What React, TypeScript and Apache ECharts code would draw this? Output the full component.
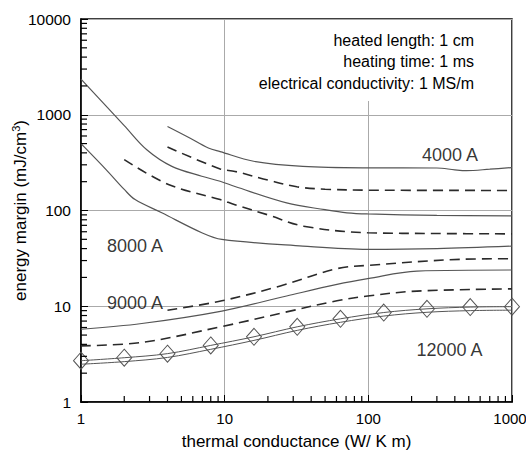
import React, { useEffect, useRef } from "react";
import * as echarts from "echarts";

// Curve data: [thermal conductance (W/K m), energy margin (mJ/cm3)]
const solid4000: number[][] = [[4, 755], [5.5, 590], [7.7, 450], [9.3, 412], [15.9, 327], [35, 289], [100, 279], [300, 278], [400, 266], [480, 261], [700, 270], [1000, 281]];
const dashed4000: number[][] = [[4, 460], [9.3, 272], [11.8, 256], [20, 208], [31.8, 177], [50, 167], [99, 163], [1000, 162]];
const solid8000a: number[][] = [[1, 2357], [2, 771], [2.87, 431], [4.29, 289], [6.93, 228], [9.3, 202], [11.8, 178], [27, 120], [50, 102], [71, 94.6], [99, 92], [300, 89], [1000, 88]];
const dashed8000: number[][] = [[2, 340], [4.06, 187], [9.3, 130], [11.8, 115], [20, 90], [35.4, 68.6], [99, 58.6], [300, 57.5], [1000, 57]];
const solid8000b: number[][] = [[1, 499], [1.5, 266], [2, 166], [2.38, 130], [3.65, 94.6], [6.93, 58.6], [9.56, 49.9], [35, 42.5], [99, 39.3], [300, 40], [1000, 42.5]];
const dashed9000: number[][] = [[4, 9.08], [9.56, 11.4], [24.4, 16.3], [60.5, 24.7], [99, 26.7], [437, 30.9], [1000, 31.4]];
const solid9000: number[][] = [[1, 5.75], [2.65, 6.6], [9.56, 8.9], [27, 12.8], [60.5, 16.9], [99, 19.4], [218, 23.3], [1000, 23.9]];
const dashed12000: number[][] = [[1, 3.86], [2.65, 4.19], [9.56, 6.14], [27, 8.73], [60.5, 11.4], [99, 12.8], [218, 14.4], [1000, 15.2]];
const diamondX: number[] = [1, 2, 4, 8, 16, 32, 64, 128, 256, 512, 1000];
const diamondUpper: number[] = [2.7, 2.9, 3.2, 3.9, 4.8, 6.1, 7.4, 8.6, 9.4, 9.8, 9.9];
const diamondLower: number[] = [2.48, 2.64, 2.92, 3.55, 4.4, 5.6, 6.8, 7.9, 8.65, 9.0, 9.1];

const curveLabels: { name: string; value: number[] }[] = [
  { name: "4000 A", value: [370, 383] },
  { name: "8000 A", value: [2.38, 42.5] },
  { name: "9000 A", value: [2.38, 10.9] },
  { name: "12000 A", value: [367, 3.48] },
];

const infoLines: string[] = ["heated length: 1 cm", "heating time: 1 ms", "electrical conductivity: 1 MS/m"];

const xMinor: number[] = [2, 3, 4, 5, 6, 7, 8, 9, 20, 30, 40, 50, 60, 70, 80, 90, 200, 300, 400, 500, 600, 700, 800, 900];
const yMinor: number[] = [2, 3, 4, 5, 6, 7, 8, 9, 20, 30, 40, 50, 60, 70, 80, 90, 200, 300, 400, 500, 600, 700, 800, 900, 2000, 3000, 4000, 5000, 6000, 7000, 8000, 9000];

const FONT = "Liberation Sans, Arial, Helvetica, sans-serif";
// data sits just inside the axis minimum (the minimum itself is dropped); ticks are drawn from the axis line
const EDGE = 1.0001;

export default function App() {
  const ref = useRef<HTMLDivElement>(null);
  useEffect(() => {
    document.body.style.margin = "0";
    if (!ref.current) return;
    const chart = echarts.init(ref.current, undefined, { renderer: "svg" });
    const solidStyle = { color: "#555", width: 1.2, type: "solid" as const };
    const dashedStyle = { color: "#2a2a2a", width: 1.6, type: [10, 6] as number[] };
    const lineSeries = (data: number[][], style: any) => ({
      type: "line",
      data,
      smooth: 0.35,
      showSymbol: false,
      symbol: "none",
      lineStyle: style,
      silent: true,
      z: 3,
    });
    const tickFmt = (v: number) => (Math.round(v) === 1000 ? "{r|1000}" : String(Math.round(v)));
    const option: any = {
      animation: false,
      textStyle: { fontFamily: FONT },
      grid: {
        left: 81, right: 14, top: 19, bottom: 50,
        containLabel: false, outerBoundsMode: "none",
        show: true, borderColor: "#000", borderWidth: 1.5, backgroundColor: "transparent",
      },
      xAxis: {
        type: "log",
        logBase: 10,
        min: 1,
        max: 1000,
        name: "thermal conductance (W/ K m)",
        nameLocation: "middle",
        nameGap: 31,
        nameMoveOverlap: false,
        nameTextStyle: { fontSize: 17, color: "#000", fontFamily: FONT },
        axisLine: { show: true, lineStyle: { color: "#000", width: 1.5 } },
        axisTick: { show: true, inside: true, length: 7, lineStyle: { color: "#000" } },
        axisLabel: {
          fontSize: 15, color: "#000", margin: 9, fontFamily: FONT,
          formatter: tickFmt,
          rich: { r: { fontSize: 15, color: "#000", fontFamily: FONT, padding: [0, 4, 0, 0] } },
        },
        splitLine: { show: true, lineStyle: { color: "#aaa", width: 1 } },
      },
      yAxis: {
        type: "log",
        logBase: 10,
        min: 1,
        max: 10000,
        name: "energy margin (mJ/cm{sup|3})",
        nameLocation: "middle",
        nameRotate: 90,
        nameGap: 51,
        nameMoveOverlap: false,
        nameTextStyle: {
          fontSize: 17,
          color: "#000",
          fontFamily: FONT,
          lineHeight: 20,
          rich: { sup: { fontSize: 11, color: "#000", fontFamily: FONT, verticalAlign: "top", lineHeight: 11 } },
        },
        axisLine: { show: true, lineStyle: { color: "#000", width: 1.5 } },
        axisTick: { show: true, inside: true, length: 7, lineStyle: { color: "#000" } },
        axisLabel: { fontSize: 15.5, color: "#000", margin: 10, fontFamily: FONT, formatter: (v: number) => String(Math.round(v)) },
        splitLine: { show: true, lineStyle: { color: "#aaa", width: 1 } },
      },
      graphic: [
        { type: "rect", z: 10, shape: { x: 252, y: 20, width: 258, height: 81 }, style: { fill: "#fff" } },
        ...infoLines.map((t, i) => ({
          type: "text",
          z: 11,
          x: 474,
          y: 40 + i * 21.5,
          style: { text: t, fill: "#000", font: `16px ${FONT}`, align: "right", verticalAlign: "middle" },
        })),
      ],
      series: [
        lineSeries(solid4000, solidStyle),
        lineSeries(dashed4000, dashedStyle),
        lineSeries(solid8000a, solidStyle),
        lineSeries(dashed8000, dashedStyle),
        lineSeries(solid8000b, solidStyle),
        lineSeries(dashed9000, dashedStyle),
        lineSeries(solid9000, solidStyle),
        lineSeries(dashed12000, dashedStyle),
        {
          type: "line",
          data: diamondX.map((x, i) => [x, diamondLower[i]]),
          smooth: 0.35,
          showSymbol: false,
          symbol: "none",
          lineStyle: { color: "#555", width: 1 },
          silent: true,
          z: 3,
        },
        {
          type: "line",
          data: diamondX.map((x, i) => [x, diamondUpper[i]]),
          smooth: 0.35,
          symbol: "diamond",
          symbolSize: [15, 17],
          showSymbol: true,
          showAllSymbol: true,
          clip: false,
          itemStyle: { color: "rgba(0,0,0,0)", borderColor: "#555", borderWidth: 1 },
          lineStyle: { color: "#555", width: 1 },
          silent: true,
          z: 4,
        },
        {
          type: "scatter",
          data: curveLabels,
          symbolSize: 0,
          silent: true,
          z: 12,
          label: { show: true, position: "inside", formatter: "{b}", fontSize: 18, color: "#000", fontFamily: FONT },
        },
        {
          type: "custom",
          silent: true,
          clip: false,
          z: 20,
          data: xMinor.map((v) => [v, EDGE]),
          renderItem: (params: any, api: any) => {
            const p = api.coord([api.value(0), 1]);
            return {
              type: "line",
              shape: { x1: p[0], y1: p[1], x2: p[0], y2: p[1] - 6 },
              style: { stroke: "#000", lineWidth: 1.2, fill: null },
            };
          },
        },
        {
          type: "custom",
          silent: true,
          clip: false,
          z: 20,
          data: yMinor.map((v) => [EDGE, v]),
          renderItem: (params: any, api: any) => {
            const p = api.coord([1, api.value(1)]);
            return {
              type: "line",
              shape: { x1: p[0], y1: p[1], x2: p[0] + 6, y2: p[1] },
              style: { stroke: "#000", lineWidth: 1.2, fill: null },
            };
          },
        },
      ],
    };
    chart.setOption(option);
    return () => chart.dispose();
  }, []);
  return <div ref={ref} style={{ width: 526, height: 452 }} />;
}
